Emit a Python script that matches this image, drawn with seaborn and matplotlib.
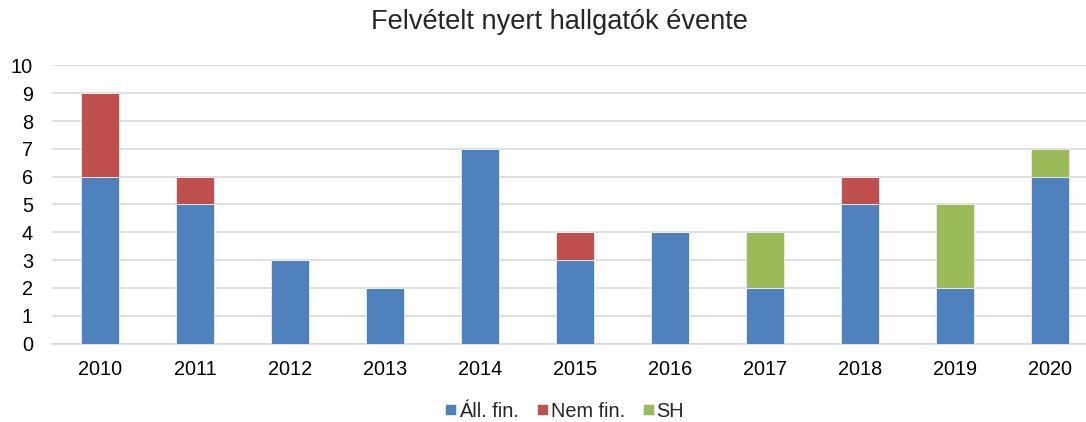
import numpy as np
import pandas as pd
import matplotlib
matplotlib.use("Agg")
import matplotlib.pyplot as plt
import seaborn as sns

years = ["2010", "2011", "2012", "2013", "2014", "2015", "2016", "2017", "2018", "2019", "2020"]
all_fin = [6, 5, 3, 2, 7, 3, 4, 2, 5, 2, 6]
nem_fin = [3, 1, 0, 0, 0, 1, 0, 0, 1, 0, 0]
sh = [0, 0, 0, 0, 0, 0, 0, 2, 0, 3, 1]
series_names = ["Áll. fin.", "Nem fin.", "SH"]
colors = ["#4F81BD", "#C0504D", "#9BBB59"]

sns.set_style("white")
plt.rcParams['font.family'] = ['Liberation Sans', 'DejaVu Sans']

fig = plt.figure(figsize=(10.86, 4.22), dpi=100)
ax = fig.add_axes([0.0483, 0.186, 0.9517, 0.659])

# stacked bars: draw each segment with its bottom
bottom = np.zeros(len(years))
for name, vals, col in zip(series_names, [all_fin, nem_fin, sh], colors):
    df = pd.DataFrame({"year": years, "value": vals})
    sns.barplot(data=df, x="year", y="value", color=col, width=0.4,
                saturation=1, bottom=bottom, edgecolor="#E8EEF6", linewidth=0.6,
                ax=ax, label=name, zorder=3)
    bottom = bottom + np.array(vals)

if ax.get_legend() is not None:
    ax.get_legend().remove()

ax.set_ylim(0, 10)
ax.set_yticks(range(0, 11))
ax.set_xlim(-0.5, 10.38)
ax.grid(axis="y", color="#D9D9D9", linewidth=1.2, zorder=0)
ax.set_axisbelow(True)
for s in ["top", "right", "left"]:
    ax.spines[s].set_visible(False)
ax.spines["bottom"].set_color("#D9D9D9")
ax.spines["bottom"].set_linewidth(1.2)
ax.tick_params(axis="both", length=0, labelsize=14.3, colors="#000000")
ax.tick_params(axis="x", pad=12)
ax.tick_params(axis="y", pad=14)
ax.set_xlabel("")
ax.set_ylabel("")

fig.text(0.515, 0.947, "Felvételt nyert hallgatók évente", ha="center", va="center",
         fontsize=19.6)

handles, labels = ax.get_legend_handles_labels()
fig.legend(handles, labels, loc="center", bbox_to_anchor=(0.52, 0.026), ncol=3,
           frameon=False, fontsize=14.3, handlelength=0.55, handleheight=0.55,
           handletextpad=0.15, columnspacing=0.9)

fig.savefig("out.png", dpi=100)
